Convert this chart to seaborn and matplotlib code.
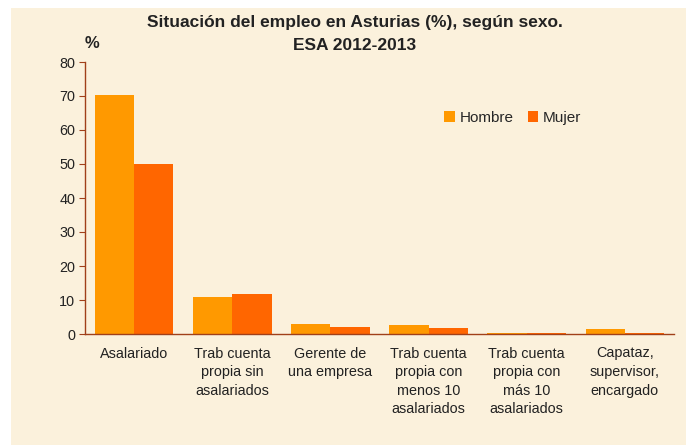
import numpy as np
import pandas as pd
import matplotlib
matplotlib.use("Agg")
import matplotlib.pyplot as plt
import seaborn as sns
from matplotlib.patches import Rectangle, Patch

categorias = ["Asalariado",
              "Trab cuenta\npropia sin\nasalariados",
              "Gerente de\nuna empresa",
              "Trab cuenta\npropia con\nmenos 10\nasalariados",
              "Trab cuenta\npropia con\nmás 10\nasalariados",
              "Capataz,\nsupervisor,\nencargado"]
hombre = [70.2, 11.0, 2.95, 2.65, 0.35, 1.5]
mujer = [50.0, 11.9, 2.05, 1.8, 0.35, 0.3]
sexos = ["Hombre", "Mujer"]
colores = ["#FF9900", "#FF6600"]

df = pd.DataFrame({"cat": categorias * 2,
                   "valor": hombre + mujer,
                   "sexo": ["Hombre"] * 6 + ["Mujer"] * 6})

sns.set_style("white")
plt.rcParams['font.family'] = ['Liberation Sans', 'DejaVu Sans']

fondo = "#FBF1DC"
eje = "#A0401A"

fig = plt.figure(figsize=(6.86, 4.45), dpi=100, facecolor="white")
fig.patches.append(Rectangle((11/686, 0), 1, 1 - 8/445, transform=fig.transFigure,
                             facecolor=fondo, edgecolor="none", zorder=-10))
ax = fig.add_axes([85/686, 1 - 334/445, 589/686, 272/445])
ax.set_facecolor("none")

sns.barplot(data=df, x="cat", y="valor", hue="sexo", palette=colores,
            width=0.8, saturation=1, ax=ax, legend=False, edgecolor="none")

ax.set_ylim(0, 80)
ax.set_xlim(-0.5, 5.5)
ax.set_yticks(range(0, 81, 10))
ax.set_xlabel("")
ax.set_ylabel("")
for s in ["top", "right"]:
    ax.spines[s].set_visible(False)
for s in ["left", "bottom"]:
    ax.spines[s].set_color(eje)
    ax.spines[s].set_linewidth(1.0)

ax.set_xticks(range(6))
ax.set_xticklabels(categorias, fontsize=10.4, linespacing=1.42, color="#222222")
ax.set_xticks(np.arange(-0.5, 6, 1), minor=True)
ax.tick_params(axis="x", which="major", length=0, pad=9)
ax.tick_params(axis="x", which="minor", length=4, color=eje, direction="out")
ax.tick_params(axis="y", length=4, color=eje, direction="out", labelsize=10.4,
               labelcolor="#222222", left=True, pad=3)

fig.text(355/686, 1 - 22/445, "Situación del empleo en Asturias (%), según sexo.",
         ha="center", va="center", fontsize=12.5, fontweight="bold", color="#222222")
fig.text(355/686, 1 - 45/445, "ESA 2012-2013",
         ha="center", va="center", fontsize=12.5, fontweight="bold", color="#222222")
fig.text(92/686, 1 - 44/445, "%", ha="center", va="center", fontsize=12,
         fontweight="bold", color="#222222")

handles = [Patch(facecolor=c, edgecolor="none", label=s) for s, c in zip(sexos, colores)]
ax.legend(handles=handles, loc="center left", bbox_to_anchor=(0.587, 0.795),
          ncol=2, frameon=False, fontsize=11, handlelength=0.7, handleheight=0.7,
          handletextpad=0.3, columnspacing=0.9)

fig.savefig("out.png", dpi=100, facecolor="white")
